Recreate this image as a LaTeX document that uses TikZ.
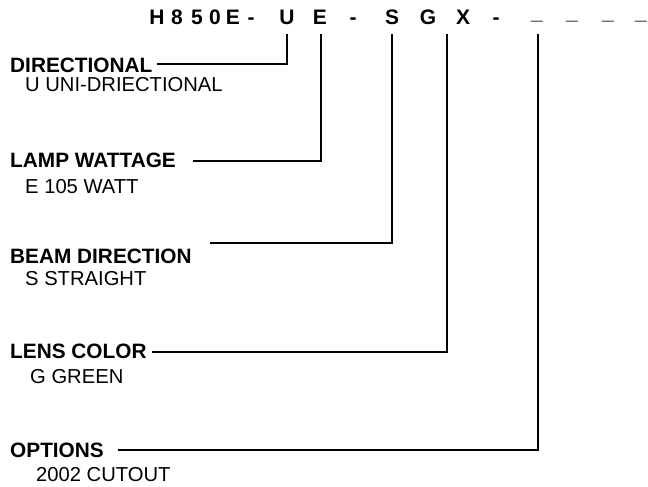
\documentclass[tikz,border=0pt]{standalone}
\usepackage{fontspec}
\setmainfont{Liberation Sans}
\begin{document}
\begin{tikzpicture}[x=1pt,y=-1pt,
  ttl/.style={font=\fontsize{21}{24}\selectfont\bfseries, anchor=base, inner sep=0pt},
  lbl/.style={font=\fontsize{20.8}{24}\selectfont\bfseries, anchor=base west, inner sep=0pt},
  val/.style={font=\fontsize{20.2}{24}\selectfont, anchor=base west, inner sep=0pt},
  conn/.style={line width=1.8pt}]
\useasboundingbox (0,0) rectangle (648,487);
% title characters
\node[ttl] (tH) at (157,25) {H};
\node[ttl] (t8) at (177,25) {8};
\node[ttl] (t5) at (197,25) {5};
\node[ttl] (t0) at (215,25) {0};
\node[ttl] (tE1) at (233,25) {E};
\node[ttl] (td1) at (251,25) {-};
\node[ttl] (tU) at (287,25) {U};
\node[ttl] (tE) at (320,25) {E};
\node[ttl] (td2) at (353,25) {-};
\node[ttl] (tS) at (392,25) {S};
\node[ttl] (tG) at (428,25) {G};
\node[ttl] (tX) at (463,25) {X};
\node[ttl] (td3) at (496,25) {-};
\node[ttl] (tu1) at (537,20) {\_};
\node[ttl] (tu2) at (572,20) {\_};
\node[ttl] (tu3) at (608,20) {\_};
\node[ttl] (tu4) at (641,20) {\_};
% labels
\node[lbl] (dir) at (10,73) {DIRECTIONAL};
\node[val] (dirv) at (25,92) {U UNI-DRIECTIONAL};
\node[lbl] (lamp) at (10,167) {LAMP WATTAGE};
\node[val] (lampv) at (25,193) {E 105 WATT};
\node[lbl] (beam) at (10,263) {BEAM DIRECTION};
\node[val] (beamv) at (25,285) {S STRAIGHT};
\node[lbl] (lens) at (10,358) {LENS COLOR};
\node[val] (lensv) at (30,383) {G GREEN};
\node[lbl] (opt) at (10,457) {OPTIONS};
\node[val] (optv) at (36,481) {2002 CUTOUT};
% connector start/end points
\coordinate (sU) at (287,34);
\coordinate (sE) at (321,34);
\coordinate (sS) at (392,34);
\coordinate (sG) at (447,34);
\coordinate (sO) at (538,34);
\coordinate (eDir) at (157,64);
\coordinate (eLamp) at (193,161);
\coordinate (eBeam) at (210,243);
\coordinate (eLens) at (152,352);
\coordinate (eOpt) at (118,450);
\draw[conn] (sU) |- (eDir);
\draw[conn] (sE) |- (eLamp);
\draw[conn] (sS) |- (eBeam);
\draw[conn] (sG) |- (eLens);
\draw[conn] (sO) |- (eOpt);
\end{tikzpicture}
\end{document}
